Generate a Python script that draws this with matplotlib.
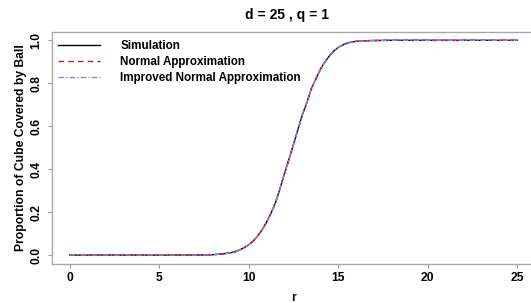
import numpy as np
import matplotlib.pyplot as plt

# ---- data ----
r = [0, 1, 2, 3, 4, 5, 6, 7, 8, 8.5, 9.0, 9.25, 9.5, 9.75, 10.0, 10.25, 10.5,
     10.75, 11.0, 11.25, 11.5, 11.75, 12.0, 12.25, 12.5, 12.75, 13.0, 13.25,
     13.5, 13.75, 14.0, 14.25, 14.5, 14.75, 15.0, 15.25, 15.5, 15.75, 16.0,
     16.5, 17, 18, 19, 20, 21, 22, 23, 24, 25]
simulation = [0, 0, 0, 0, 0, 0, 0, 0, 0.002, 0.005, 0.011, 0.016, 0.024, 0.035,
              0.048, 0.065, 0.089, 0.118, 0.154, 0.196, 0.245, 0.31, 0.38, 0.447,
              0.515, 0.585, 0.655, 0.71, 0.775, 0.82, 0.865, 0.898, 0.927, 0.95,
              0.967, 0.978, 0.987, 0.992, 0.995, 0.998, 0.999, 1, 1, 1, 1, 1, 1, 1, 1]
normal_approx = list(simulation)
improved_approx = list(simulation)

xticks = [0, 5, 10, 15, 20, 25]
yticks = [0.0, 0.2, 0.4, 0.6, 0.8, 1.0]

plt.rcParams["font.family"] = ["Liberation Sans", "DejaVu Sans"]
plt.rcParams["font.weight"] = "bold"

fig = plt.figure(figsize=(5.31, 3.03), dpi=100)
# plot region runs a little past the right edge of the picture (cropped like the original)
ax = fig.add_axes([0.0974, 0.1297, 0.9106, 0.7657])

ax.plot(r, simulation, color="black", lw=1.0, label="Simulation")
ax.plot(r, normal_approx, color="red", lw=1.0, ls=(0, (4, 3)), label="Normal Approximation")
ax.plot(r, improved_approx, color="#6f8ff0", lw=1.0, ls=(0, (4, 1.5, 1, 1.5)),
        label="Improved Normal Approximation")

ax.set_xlim(-1, 26)
ax.set_ylim(-0.04, 1.04)
ax.set_xticks(xticks)
ax.set_yticks(yticks)
ax.set_yticklabels([f"{v:.1f}" for v in yticks], rotation=90, va="center")
ax.tick_params(length=3, width=0.8, color="#999999", labelsize=8.7)
ax.tick_params(axis="x", pad=3)
ax.tick_params(axis="y", pad=3.5)
for s in ax.spines.values():
    s.set_color("#aaaaaa")
    s.set_linewidth(1.0)

fig.text(0.5414, 0.951, "d = 25 , q = 1", fontsize=10, fontweight="bold",
         ha="center", va="center")
ax.set_xlabel("r", fontsize=8.7, fontweight="bold", labelpad=6)
ax.set_ylabel("Proportion of Cube Covered by Ball", fontsize=8.7, fontweight="bold", labelpad=3)

ax.legend(loc="upper left", bbox_to_anchor=(-0.004, 1.0), frameon=False, fontsize=8.4,
          handlelength=3.6, handletextpad=1.75, labelspacing=0.34, borderaxespad=0.3)

fig.savefig("out.png", dpi=100)
